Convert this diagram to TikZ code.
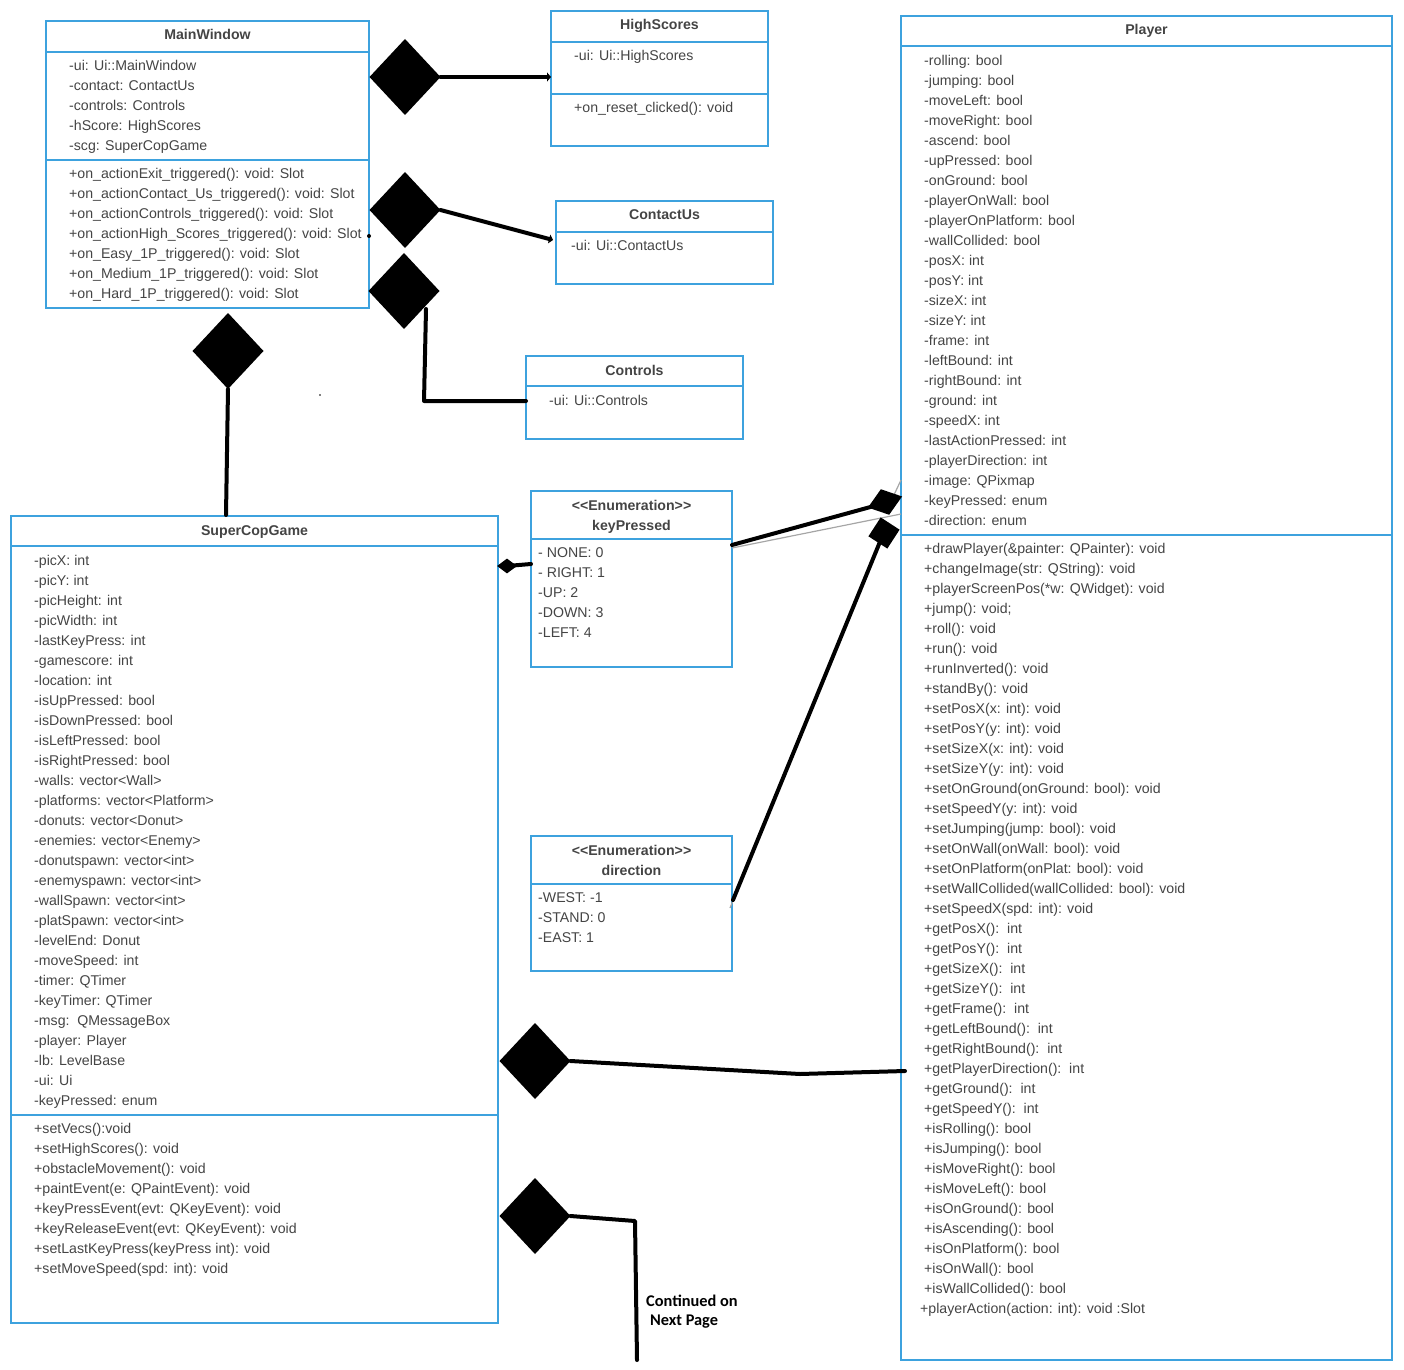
\documentclass[tikz,border=0pt]{standalone}
\usepackage{fontspec}
\setmainfont{Liberation Sans}
\newfontfamily\notefont{Carlito}
\usetikzlibrary{arrows.meta,shapes.geometric}
\definecolor{umlblue}{HTML}{3DA2DE}
\definecolor{umltext}{HTML}{444444}
\begin{document}
\begin{tikzpicture}[x=1bp,y=-1bp,
  umlbox/.style={draw=umlblue, line width=2bp, anchor=north west, inner sep=0, outer sep=0},
  divider/.style={draw=umlblue, line width=2bp},
  member/.style={anchor=base west, inner sep=0, text=umltext, font=\fontsize{14.2}{16}\selectfont},
  ctitle/.style={anchor=base, inner sep=0, text=umltext, font=\fontsize{14.2}{16}\selectfont\bfseries},
  comp/.style={diamond, fill=black, inner sep=0, outer sep=0, minimum width=71bp, minimum height=76bp},
  conn/.style={draw=black, line width=4bp, line cap=round, line join=round},
  thin/.style={draw=gray!70, line width=1.2bp},
  tip/.style={-{Triangle[length=4bp,width=9bp]}},
  note/.style={anchor=base west, inner sep=0, font=\notefont\fontsize{16.4}{18}\selectfont\bfseries}]
\useasboundingbox (0,0) rectangle (1404,1370);

% ---------------- MainWindow ----------------
\node[umlbox, minimum width=323bp, minimum height=287bp] (mw) at (46,21) {};
\draw[divider] (46,52) -- (369,52);
\draw[divider] (46,160) -- (369,160);
\node[ctitle] (mw-t) at (207.5,40) {MainWindow};
\foreach \txt [count=\i from 0] in {-ui: Ui::MainWindow, -contact: ContactUs,
  -controls: Controls, -hScore: HighScores, -scg: SuperCopGame}
  \node[member] (mw-a\i) at (69,70.5+20*\i) {\txt};
\foreach \txt [count=\i from 0] in {+on\_actionExit\_triggered(): void: Slot,
  +on\_actionContact\_Us\_triggered(): void: Slot,
  +on\_actionControls\_triggered(): void: Slot,
  +on\_actionHigh\_Scores\_triggered(): void: Slot,
  +on\_Easy\_1P\_triggered(): void: Slot,
  +on\_Medium\_1P\_triggered(): void: Slot,
  +on\_Hard\_1P\_triggered(): void: Slot}
  \node[member] (mw-m\i) at (69,178.5+20*\i) {\txt};

% ---------------- HighScores ----------------
\node[umlbox, minimum width=217bp, minimum height=135bp] (hs) at (551,11) {};
\draw[divider] (551,42) -- (768,42);
\draw[divider] (551,94) -- (768,94);
\node[ctitle] (hs-t) at (659.5,30) {HighScores};
\node[member] (hs-a0) at (574,60.5) {-ui: Ui::HighScores};
\node[member] (hs-m0) at (574,112.5) {+on\_reset\_clicked(): void};

% ---------------- ContactUs ----------------
\node[umlbox, minimum width=217bp, minimum height=83bp] (cu) at (556,201) {};
\draw[divider] (556,232) -- (773,232);
\node[ctitle] (cu-t) at (664.5,220) {ContactUs};
\node[member] (cu-a0) at (571,250.5) {-ui: Ui::ContactUs};

% ---------------- Controls ----------------
\node[umlbox, minimum width=217bp, minimum height=83bp] (ct) at (526,356) {};
\draw[divider] (526,386) -- (743,386);
\node[ctitle] (ct-t) at (634.5,375) {Controls};
\node[member] (ct-a0) at (549,405.5) {-ui: Ui::Controls};

% ---------------- keyPressed enumeration ----------------
\node[umlbox, minimum width=201bp, minimum height=176bp] (kp) at (531,491) {};
\draw[divider] (531,539) -- (732,539);
\node[ctitle] (kp-s) at (631.5,510) {<{}<Enumeration>{}>};
\node[ctitle] (kp-t) at (631.5,530) {keyPressed};
\foreach \txt [count=\i from 0] in {- NONE: 0, - RIGHT: 1, -UP: 2, -DOWN: 3, -LEFT: 4}
  \node[member] (kp-a\i) at (538,557.5+20*\i) {\txt};

% ---------------- direction enumeration ----------------
\node[umlbox, minimum width=201bp, minimum height=135bp] (dir) at (531,836) {};
\draw[divider] (531,884) -- (732,884);
\node[ctitle] (dir-s) at (631.5,855) {<{}<Enumeration>{}>};
\node[ctitle] (dir-t) at (631.5,875) {direction};
\foreach \txt [count=\i from 0] in {-WEST: -1, -STAND: 0, -EAST: 1}
  \node[member] (dir-a\i) at (538,902.5+20*\i) {\txt};

% ---------------- SuperCopGame ----------------
\node[umlbox, minimum width=487bp, minimum height=807bp] (scg) at (11,516) {};
\draw[divider] (11,546) -- (498,546);
\draw[divider] (11,1115) -- (498,1115);
\node[ctitle] (scg-t) at (254.5,535) {SuperCopGame};
\foreach \txt [count=\i from 0] in {-picX: int, -picY: int, -picHeight: int,
  -picWidth: int, -lastKeyPress: int, -gamescore: int, -location: int,
  -isUpPressed: bool, -isDownPressed: bool, -isLeftPressed: bool,
  -isRightPressed: bool, -walls: vector<Wall>, -platforms: vector<Platform>,
  -donuts: vector<Donut>, -enemies: vector<Enemy>, -donutspawn: vector<int>,
  -enemyspawn: vector<int>, -wallSpawn: vector<int>, -platSpawn: vector<int>,
  -levelEnd: Donut, -moveSpeed: int, -timer: QTimer, -keyTimer: QTimer,
  -msg:\ \ QMessageBox, -player: Player, -lb: LevelBase, -ui: Ui, -keyPressed: enum}
  \node[member] (scg-a\i) at (34,565.5+20*\i) {\txt};
\foreach \txt [count=\i from 0] in {+setVecs():void, +setHighScores(): void,
  +obstacleMovement(): void, +paintEvent(e: QPaintEvent): void,
  +keyPressEvent(evt: QKeyEvent): void, +keyReleaseEvent(evt: QKeyEvent): void,
  +setLastKeyPress(keyPress int): void, +setMoveSpeed(spd: int): void}
  \node[member] (scg-m\i) at (34,1133.5+20*\i) {\txt};

% ---------------- Player ----------------
\node[umlbox, minimum width=491bp, minimum height=1344bp] (pl) at (901,16) {};
\draw[divider] (901,46) -- (1392,46);
\draw[divider] (901,535) -- (1392,535);
\node[ctitle] (pl-t) at (1146.5,35) {Player};
\foreach \txt [count=\i from 0] in {-rolling: bool, -jumping: bool, -moveLeft: bool,
  -moveRight: bool, -ascend: bool, -upPressed: bool, -onGround: bool,
  -playerOnWall: bool, -playerOnPlatform: bool, -wallCollided: bool,
  -posX: int, -posY: int, -sizeX: int, -sizeY: int, -frame: int,
  -leftBound: int, -rightBound: int, -ground: int, -speedX: int,
  -lastActionPressed: int, -playerDirection: int, -image: QPixmap,
  -keyPressed: enum, -direction: enum}
  \node[member] (pl-a\i) at (924,65.5+20*\i) {\txt};
\foreach \txt [count=\i from 0] in {+drawPlayer(\&painter: QPainter): void,
  +changeImage(str: QString): void, +playerScreenPos(*w: QWidget): void,
  +jump(): void;, +roll(): void, +run(): void, +runInverted(): void,
  +standBy(): void, +setPosX(x: int): void, +setPosY(y: int): void,
  +setSizeX(x: int): void, +setSizeY(y: int): void,
  +setOnGround(onGround: bool): void, +setSpeedY(y: int): void,
  +setJumping(jump: bool): void, +setOnWall(onWall: bool): void,
  +setOnPlatform(onPlat: bool): void, +setWallCollided(wallCollided: bool): void,
  +setSpeedX(spd: int): void, +getPosX():\ \ int, +getPosY():\ \ int,
  +getSizeX():\ \ int, +getSizeY():\ \ int, +getFrame():\ \ int,
  +getLeftBound():\ \ int, +getRightBound():\ \ int,
  +getPlayerDirection():\ \ int, +getGround():\ \ int, +getSpeedY():\ \ int,
  +isRolling(): bool, +isJumping(): bool, +isMoveRight(): bool,
  +isMoveLeft(): bool, +isOnGround(): bool, +isAscending(): bool,
  +isOnPlatform(): bool, +isOnWall(): bool, +isWallCollided(): bool}
  \node[member] (pl-m\i) at (924,553.5+20*\i) {\txt};
\node[member] (pl-m38) at (920,1313.5) {+playerAction(action: int): void :Slot};

% ---------------- composition diamonds ----------------
\node[comp] (d1) at (405,77) {};
\node[comp] (d2) at (405,210) {};
\node[comp] (d3) at (404,291) {};
\node[comp] (d4) at (228,351) {};
\node[comp] (d5) at (535,1061) {};
\node[comp] (d6) at (535,1216) {};
\node[diamond, fill=black, inner sep=0, minimum width=20bp, minimum height=15bp] (d7) at (507,566) {};

% ---------------- connector end points ----------------
\coordinate (hs-in) at (551,77);
\coordinate (cu-in) at (553,240);
\coordinate (d3-out) at (426,309);
\coordinate (ct-in) at (526,401);
\coordinate (scg-in) at (226,515);
\coordinate (kp-in) at (531,564);
\coordinate (kp-out) at (732,545);
\coordinate (kp-out2) at (732,548);
\coordinate (pl-edge) at (901,514);
\coordinate (dir-out) at (733,900);
\coordinate (c7-bend) at (800,1074);
\coordinate (pl-in) at (905,1071);
\coordinate (c8-bend) at (635,1221);
\coordinate (c8-end) at (637,1360);

% ---------------- connectors ----------------
\draw[conn, tip] (d1.east) -- (hs-in);
\draw[conn, tip] (d2.east) -- (cu-in);
\draw[conn] (d3-out) -- (424,401) -- (ct-in);
\draw[conn] (d4.south) -- (scg-in);
\draw[conn] (d7.center) -- (kp-in);
\draw[thin] (kp-out2) -- (pl-edge);
\draw[thin] (893,497) -- (901,480);
\draw[thin] (730,908) -- (734,898);
\draw[conn] (kp-out) -- (885,503);
\draw[conn] (dir-out) -- (884,532);
\draw[conn] (d5.east) -- (c7-bend) -- (pl-in);
\draw[conn] (d6.east) -- (c8-bend) -- (c8-end);

% small tilted diamonds at the Player side
\node[diamond, fill=black, inner sep=0, minimum width=36bp, minimum height=27bp, rotate=18] (d8) at (885,502) {};
\node[diamond, fill=black, inner sep=0, minimum width=32bp, minimum height=32bp, rotate=12] (d9) at (884,533) {};

% stray marks
\fill (369,236) circle (2bp);
\fill (320,395) circle (0.8bp);

% ---------------- note ----------------
\node[note] (cont1) at (646,1306) {Continued on};
\node[note] (cont2) at (650,1325) {Next Page};
\end{tikzpicture}
\end{document}
